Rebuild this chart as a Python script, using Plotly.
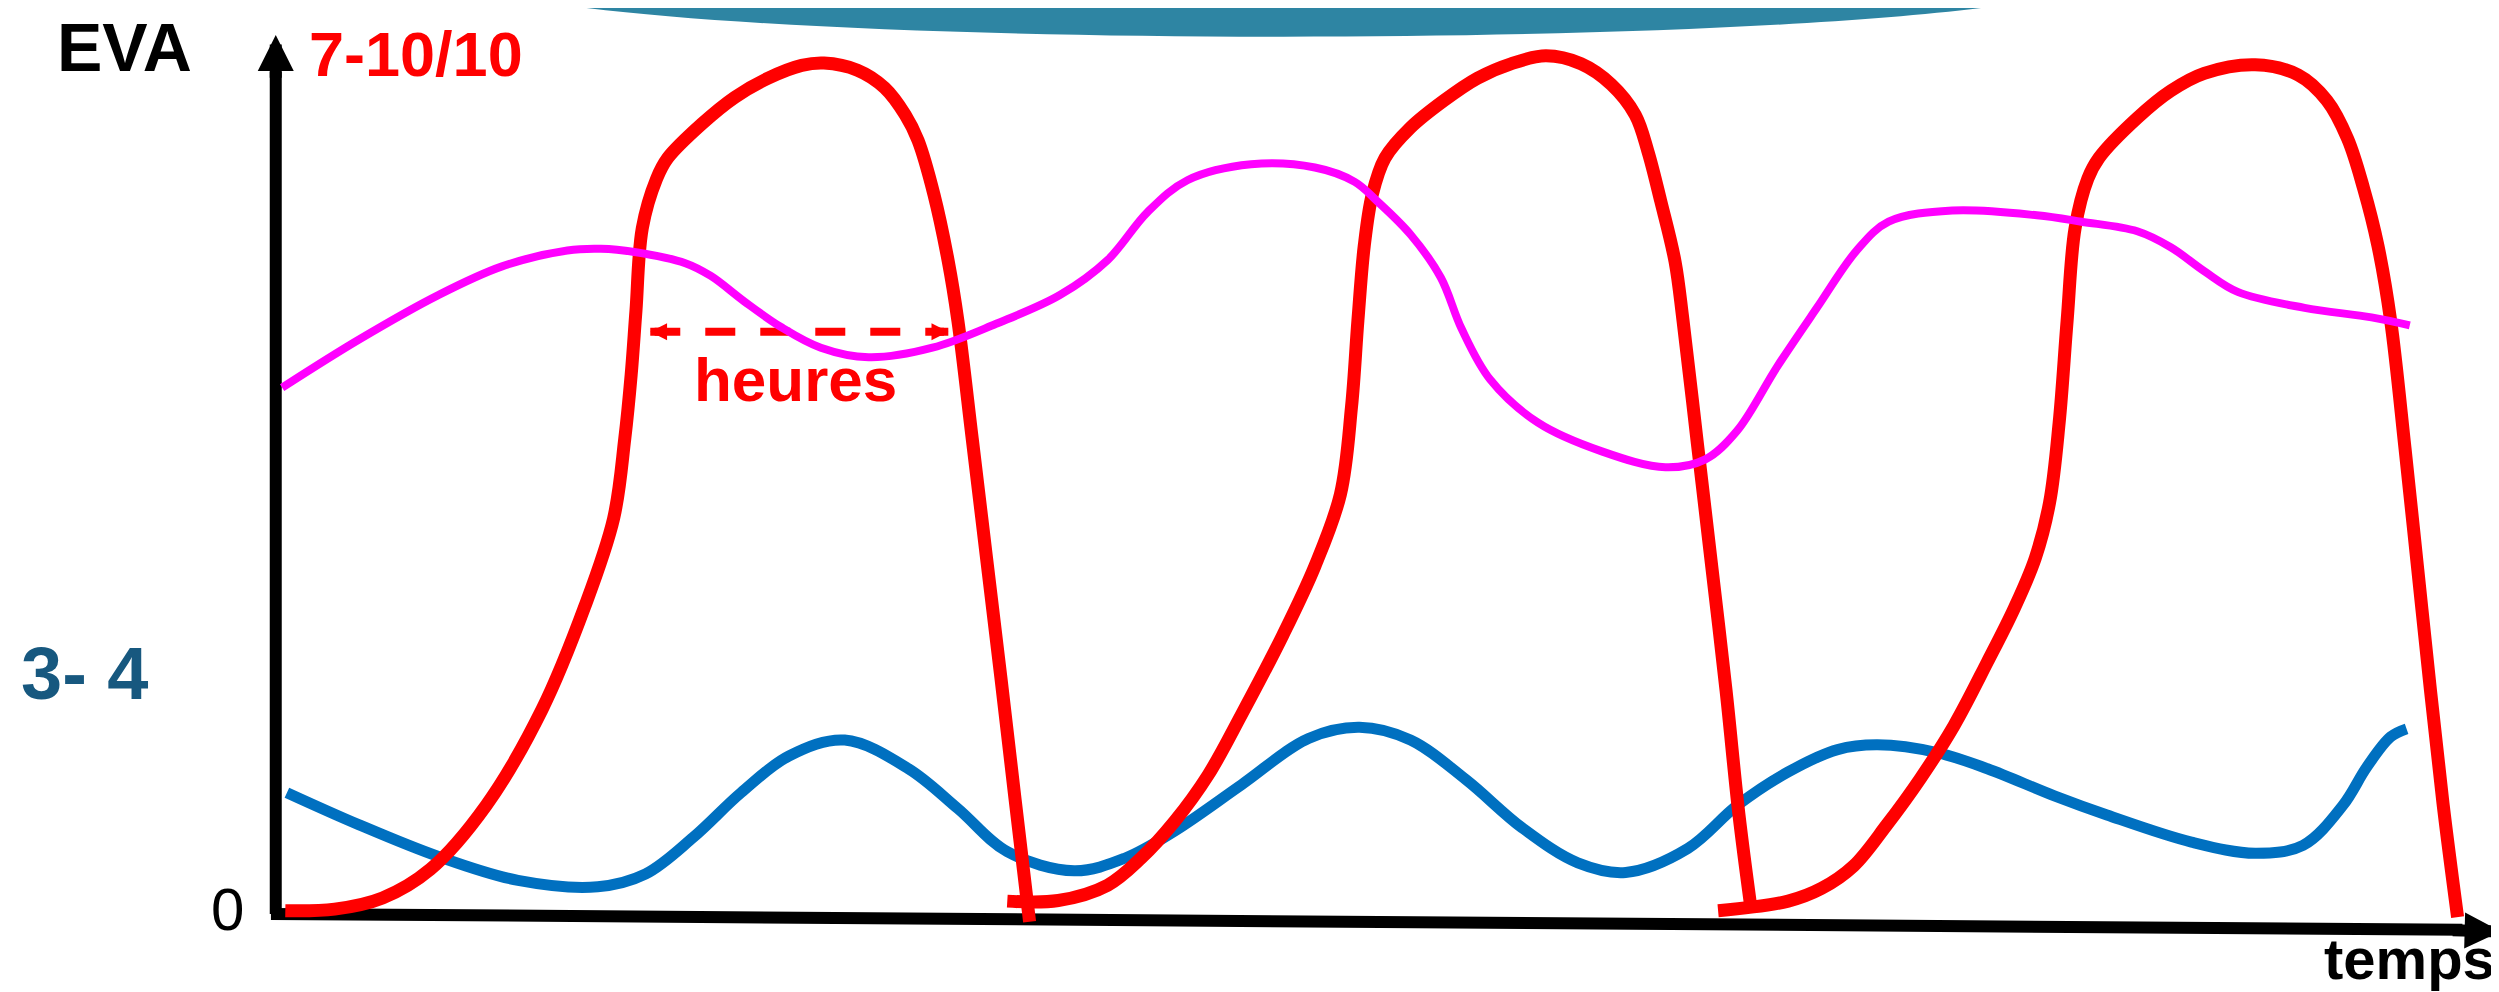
import plotly.graph_objects as go

# Repère : unités du schéma (0-1568 en x, 0-622 en y, y vers le bas)
X_RANGE = [0, 1568]
Y_RANGE = [622, 0]

# Courbe rouge : trois accès douloureux (EVA 7-10/10)
red_t1 = [174, 205, 235, 265, 300, 335, 362, 380, 387, 391, 394, 398, 407, 414, 435, 456,
          477, 498, 512, 533, 550, 563, 571, 581, 590, 596, 605, 614, 623, 632, 641]
red_y1 = [566, 565, 558, 540, 500, 440, 375, 320, 270, 230, 190, 138, 107, 94, 73, 56,
          44, 36, 34.5, 39, 50, 67, 83, 117, 159, 196, 270, 345, 420, 497, 573]

red_t2 = [627, 659, 690, 711, 732, 753, 774, 800, 820, 836, 843, 847, 851, 856, 864, 880,
          901, 922, 943, 965, 987, 1006, 1021, 1029, 1037, 1046, 1051, 1060, 1069, 1078,
          1086, 1094]
red_y2 = [560, 559.6, 550, 533, 510, 481, 443, 393, 350, 305, 250, 196, 149, 117, 94, 75,
          58, 44, 35, 30, 35, 48, 67, 90, 121, 159, 196, 273, 350, 428,
          505, 567]

red_t3 = [1073, 1117, 1138, 1158, 1179, 1200, 1221, 1242, 1259, 1272, 1281, 1287, 1292,
          1297, 1305, 1312, 1336, 1357, 1378, 1410, 1437, 1455, 1468, 1478, 1487, 1495,
          1504, 1512, 1520, 1528, 1537]
red_y3 = [566, 560, 552, 538, 512, 483, 450, 410, 376, 345, 310, 260, 196,
          138, 107, 94, 69, 52, 41, 35.6, 42, 58, 82, 113, 149, 196,
          276, 352, 428, 500, 570]

# Courbe magenta
mag_t = [172, 220, 270, 310, 351, 372, 393, 425, 441, 462, 485, 510, 540, 580, 620, 660,
         690, 715, 740, 780, 820, 845, 859, 880, 899, 912, 930, 960, 1000, 1040, 1065,
         1085, 1110, 1135, 1160, 1180, 1220, 1273, 1301, 1336, 1357, 1378, 1399, 1441,
         1483, 1507]
mag_y = [238, 208, 180, 162, 152, 151, 153, 160, 168, 184, 200, 213, 219, 213, 198, 180,
         158, 128, 108, 98, 100, 109, 121, 142, 169, 201, 233, 260, 278, 288, 283,
         265, 225, 188, 152, 134, 127, 130, 134, 140, 150, 165, 178, 188,
         194, 199]

# Courbe bleue : douleur de fond (EVA 3-4)
blue_t = [175, 220, 270, 320, 370, 400, 430, 460, 490, 525, 565, 596, 627, 669, 701, 732,
          774, 816, 848, 880, 915, 950, 985, 1015, 1054, 1085, 1117, 1148, 1173, 1211,
          1242, 1284, 1317, 1370, 1410, 1440, 1465, 1480, 1495, 1505]
blue_y = [492, 512, 532, 547, 551, 543, 520, 492, 469, 459, 477, 502, 529, 541, 533, 516,
          487, 458, 451, 459, 484, 514, 536, 542, 527, 500, 479, 465, 462, 467,
          477, 494, 506, 523, 530, 525, 500, 476, 457, 452]

# Flèche "heures"
heures_t = [403, 590]
heures_y = [203, 203]

RED = '#FF0000'
FONT = 'Liberation Sans, Arial, sans-serif'

fig = go.Figure()

fig.add_trace(go.Scatter(
    x=blue_t, y=blue_y, mode='lines',
    line=dict(color='#0070C0', width=11, shape='spline', smoothing=1.0)
))

for t, y in [(red_t1, red_y1), (red_t2, red_y2), (red_t3, red_y3)]:
    fig.add_trace(go.Scatter(
        x=t, y=y, mode='lines',
        line=dict(color=RED, width=13, shape='spline', smoothing=1.0)
    ))

fig.add_trace(go.Scatter(
    x=heures_t, y=heures_y, mode='lines',
    line=dict(color=RED, width=8, dash='30px,25px')
))

fig.add_trace(go.Scatter(
    x=mag_t, y=mag_y, mode='lines',
    line=dict(color='#FF00FF', width=8, shape='spline', smoothing=1.0)
))

# axes dessinés à la main
fig.add_shape(type='line', x0=168, y0=568, x1=168, y1=40, layer='below',
              line=dict(color='black', width=12))
fig.add_shape(type='line', x0=165, y0=568, x1=1540, y1=578, layer='below',
              line=dict(color='black', width=12))

# bandeau décoratif en haut
fig.add_shape(type='path', path='M 363,0 C 560,24 1040,24 1238,0 Z',
              fillcolor='#2E85A3', line=dict(width=0), layer='below')

arrows = [
    dict(x=168, y=17, ax=168, ay=45, w=12, s=0.6, c='black'),
    dict(x=1564, y=579, ax=1533, ay=578.2, w=12, s=0.6, c='black'),
    dict(x=heures_t[0], y=heures_y[0], ax=heures_t[0] + 8, ay=heures_y[0], w=8, s=0.42, c=RED),
    dict(x=heures_t[1], y=heures_y[1], ax=heures_t[1] - 8, ay=heures_y[1], w=8, s=0.42, c=RED),
]
for a in arrows:
    fig.add_annotation(
        x=a['x'], y=a['y'], ax=a['ax'], ay=a['ay'], axref='x', ayref='y',
        text=' ', font=dict(size=1), showarrow=True, arrowhead=2,
        arrowwidth=a['w'], arrowsize=a['s'], arrowcolor=a['c'],
        standoff=0, startstandoff=0
    )

# textes : (texte, x, y, taille, couleur, ancrage vertical)
labels = [
    ('<b>EVA</b>', 73, 0, 68, 'black', 'top'),
    ('<b>7-10/10</b>', 256, 29, 63, RED, 'middle'),
    ('<b>3- 4</b>', 48, 417, 74, '#17587F', 'middle'),
    ('0', 138, 565, 60, 'black', 'middle'),
    ('<b>temps</b>', 1507, 596, 58, 'black', 'middle'),
    ('<b>heures</b>', 494, 233, 62, RED, 'middle'),
]
for text, x, y, size, color, anchor in labels:
    fig.add_annotation(x=x, y=y, text=text, showarrow=False,
                       xanchor='center', yanchor=anchor, borderpad=0,
                       font=dict(family=FONT, size=size, color=color))

fig.update_layout(
    width=2499, height=992,
    margin=dict(l=0, r=0, t=0, b=0),
    paper_bgcolor='white', plot_bgcolor='white',
    showlegend=False,
    xaxis=dict(range=X_RANGE, visible=False),
    yaxis=dict(range=Y_RANGE, visible=False),
)

fig.write_html("out.html")
